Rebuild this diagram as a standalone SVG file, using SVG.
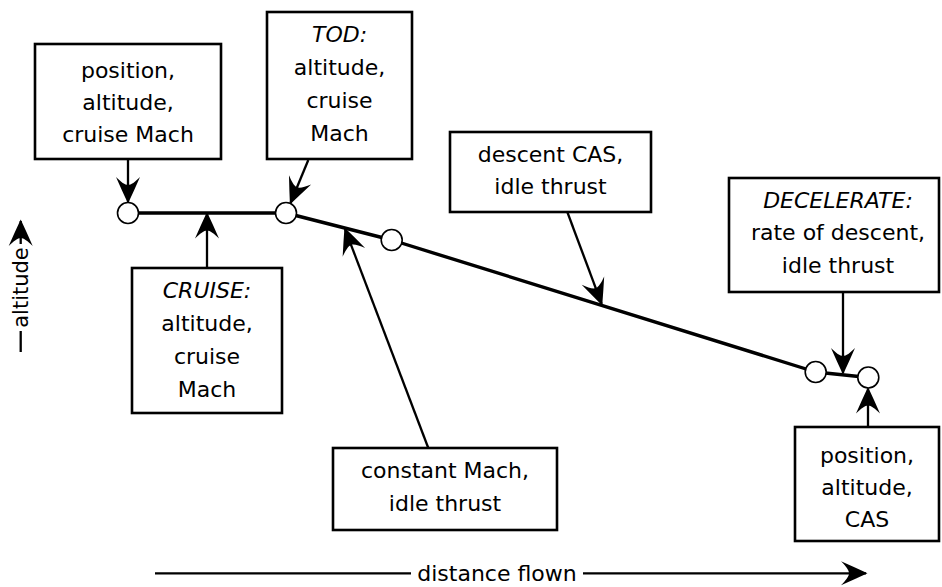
<svg xmlns="http://www.w3.org/2000/svg" width="942" height="587" viewBox="0 0 942 587">
<defs>
<style>
.box{fill:#fff;stroke:#000;stroke-width:2.6}
.t{font-family:"DejaVu Sans","Liberation Sans",sans-serif;font-size:22px;fill:#000;text-anchor:middle}
.i{font-style:italic}
.pt{fill:#fff;stroke:#000;stroke-width:1.6}
.path{fill:none;stroke:#000;stroke-width:3.4;stroke-linejoin:round}
.arr{fill:none;stroke:#000;stroke-width:2.3;marker-end:url(#ah)}
.ax{fill:none;stroke:#000;stroke-width:2.3}
</style>
<marker id="ah" markerUnits="userSpaceOnUse" viewBox="-30 -15 32 30" refX="0" refY="0" markerWidth="32" markerHeight="30" orient="auto" overflow="visible">
<path d="M1.5,0 C-7,-4 -16,-8 -25,-12 C-20,-7 -17,-3 -17,0 C-17,3 -20,7 -25,12 C-16,8 -7,4 1.5,0 Z" fill="#000"/>
</marker>
</defs>

<g id="connectors">
<polyline class="path" points="128,213 286,213 391.7,240 815.7,372 868.3,377.5"/>
<line class="arr" x1="128" y1="159" x2="128" y2="202"/>
<line class="arr" x1="308.3" y1="160" x2="290.5" y2="203"/>
<line class="arr" x1="207" y1="268" x2="207" y2="213.5"/>
<line class="arr" x1="428.3" y1="448" x2="345" y2="229"/>
<line class="arr" x1="567.3" y1="212" x2="601.7" y2="304"/>
<line class="arr" x1="843" y1="292" x2="843" y2="373"/>
<line class="arr" x1="868" y1="427" x2="868" y2="388.5"/>
</g>

<g id="axis-distance">
<line class="ax" x1="155" y1="573.3" x2="411" y2="573.3"/>
<line class="ax" x1="583" y1="573.3" x2="866" y2="573.3" style="marker-end:url(#ah)"/>
<text class="t" x="497" y="580.5">distance flown</text>
</g>
<g id="axis-altitude">
<line class="ax" x1="20.7" y1="352" x2="20.7" y2="331"/>
<line class="ax" x1="20.7" y1="244" x2="20.7" y2="221" style="marker-end:url(#ah)"/>
<text class="t" style="font-size:21px" transform="translate(28,287.5) rotate(-90)" x="0" y="0">altitude</text>
</g>

<g id="p1"><circle class="pt" cx="128" cy="213" r="10.5"/></g>
<g id="p2"><circle class="pt" cx="286" cy="213" r="10.5"/></g>
<g id="p3"><circle class="pt" cx="391.7" cy="240" r="10.5"/></g>
<g id="p4"><circle class="pt" cx="815.7" cy="372" r="10.5"/></g>
<g id="p5"><circle class="pt" cx="868.3" cy="377.5" r="10.5"/></g>

<g id="start">
<rect class="box" x="35" y="44" width="186" height="115"/>
<text class="t" x="128" y="78">position,</text>
<text class="t" x="128" y="110">altitude,</text>
<text class="t" x="128" y="142">cruise Mach</text>
</g>
<g id="tod">
<rect class="box" x="267" y="12" width="145" height="147"/>
<text class="t i" x="339.5" y="42">TOD:</text>
<text class="t" x="339.5" y="75">altitude,</text>
<text class="t" x="339.5" y="108">cruise</text>
<text class="t" x="339.5" y="141">Mach</text>
</g>
<g id="cruise">
<rect class="box" x="132" y="268" width="150" height="145"/>
<text class="t i" x="207" y="298">CRUISE:</text>
<text class="t" x="207" y="331">altitude,</text>
<text class="t" x="207" y="364">cruise</text>
<text class="t" x="207" y="397">Mach</text>
</g>
<g id="descent">
<rect class="box" x="450" y="132" width="201" height="80"/>
<text class="t" x="550.5" y="162">descent CAS,</text>
<text class="t" x="550.5" y="194">idle thrust</text>
</g>
<g id="constmach">
<rect class="box" x="333" y="448" width="224" height="82"/>
<text class="t" x="445" y="478">constant Mach,</text>
<text class="t" x="445" y="511">idle thrust</text>
</g>
<g id="decelerate">
<rect class="box" x="729" y="178" width="210" height="114"/>
<text class="t i" x="838" y="208">DECELERATE:</text>
<text class="t" x="838" y="240">rate of descent,</text>
<text class="t" x="838" y="273">idle thrust</text>
</g>
<g id="end">
<rect class="box" x="795" y="427" width="144" height="114"/>
<text class="t" x="867" y="463">position,</text>
<text class="t" x="867" y="495">altitude,</text>
<text class="t" x="867" y="527">CAS</text>
</g>
</svg>
